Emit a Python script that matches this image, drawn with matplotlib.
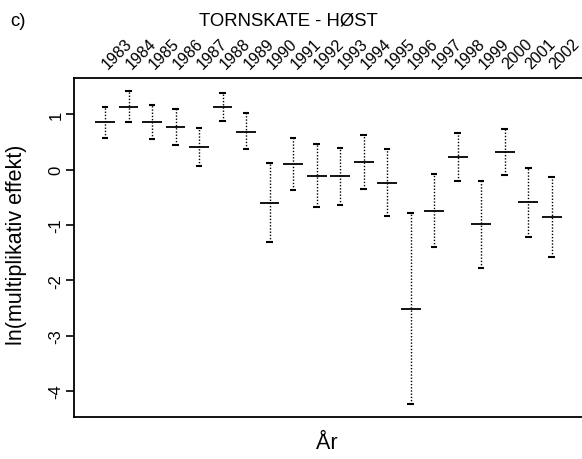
import numpy as np
import matplotlib
matplotlib.use("Agg")
from matplotlib import pyplot as plt

plt.rcParams['font.family'] = ['Liberation Sans', 'DejaVu Sans']

# data
years = [1983, 1984, 1985, 1986, 1987, 1988, 1989, 1990, 1991, 1992,
         1993, 1994, 1995, 1996, 1997, 1998, 1999, 2000, 2001, 2002]
effect = [0.86, 1.13, 0.87, 0.78, 0.42, 1.13, 0.69, -0.60, 0.11, -0.11,
          -0.11, 0.14, -0.24, -2.51, -0.74, 0.24, -0.98, 0.32, -0.58, -0.86]
upper = [1.13, 1.42, 1.18, 1.10, 0.76, 1.38, 1.03, 0.13, 0.58, 0.46,
         0.40, 0.63, 0.37, -0.78, -0.07, 0.66, -0.20, 0.74, 0.04, -0.13]
lower = [0.57, 0.86, 0.55, 0.45, 0.07, 0.89, 0.37, -1.31, -0.36, -0.68,
         -0.63, -0.34, -0.83, -4.24, -1.39, -0.20, -1.77, -0.10, -1.21, -1.57]
yticks = [-4, -3, -2, -1, 0, 1]

W, H = 582, 460
fig = plt.figure(figsize=(W / 100, H / 100), dpi=100)

# axes box in pixels (right side runs off the picture like in the original)
left, right, top, bottom = 74, 587, 79, 418
ax = fig.add_axes([left / W, 1 - bottom / H, (right - left) / W, (bottom - top) / H])

x = np.array(years)
ax.vlines(x, lower, upper, colors='black', linestyles=(0, (1, 1.3)), linewidth=1.0)
ax.hlines(upper, x - 0.14, x + 0.14, colors='black', linewidth=1.5)
ax.hlines(lower, x - 0.14, x + 0.14, colors='black', linewidth=1.5)
ax.hlines(effect, x - 0.42, x + 0.42, colors='black', linewidth=1.3)

ax.set_xlim(1981.68, 2003.5)
ax.set_ylim(-4.47, 1.66)

# years on top, tilted
ax.xaxis.tick_top()
ax.set_xticks(years)
ax.set_xticklabels([str(y) for y in years], rotation=45, ha='left', va='center',
                   rotation_mode='anchor', fontsize=11.5)
ax.tick_params(axis='x', length=0, pad=9)

ax.set_yticks(yticks)
ax.set_yticklabels([str(v) for v in yticks], rotation=90, va='center', fontsize=12)
ax.tick_params(axis='y', direction='out', length=5.5, width=1.2, pad=2)

for s in ax.spines.values():
    s.set_linewidth(1.3)
ax.spines['right'].set_visible(False)

fig.text(17 / W, 1 - 245 / H, 'ln(multiplikativ effekt)', rotation=90,
         ha='center', va='center', fontsize=15.5)
fig.text(327 / W, 1 - 444 / H, 'År', ha='center', va='center', fontsize=15.5)
fig.text(288 / W, 1 - 21 / H, 'TORNSKATE - HØST', ha='center', va='center', fontsize=13.3)
fig.text(10 / W, 1 - 21 / H, 'c)', ha='left', va='center', fontsize=13.3)

fig.savefig('out.png', dpi=100)
